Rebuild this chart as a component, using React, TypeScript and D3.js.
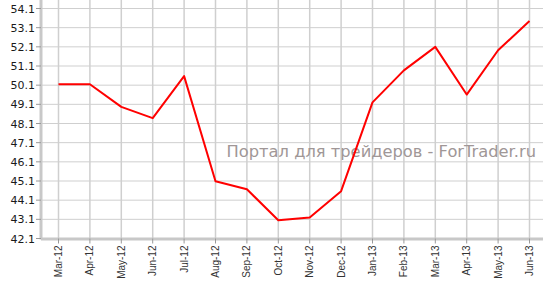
import React from "react";
import * as d3 from "d3";

const months = ["Mar-12","Apr-12","May-12","Jun-12","Jul-12","Aug-12","Sep-12","Oct-12","Nov-12","Dec-12","Jan-13","Feb-13","Mar-13","Apr-13","May-13","Jun-13"];
const values = [50.15,50.15,48.97,48.38,50.57,45.09,44.67,43.05,43.2,44.57,49.2,50.87,52.1,49.61,51.92,53.45];
const yTicks = [42.1,43.1,44.1,45.1,46.1,47.1,48.1,49.1,50.1,51.1,52.1,53.1,54.1];
const watermark = "Портал для трейдеров - ForTrader.ru";

export default function App() {
  const W = 543, H = 281;
  const axisX = 41, bottom = 238.5;
  const x = d3.scalePoint<string>().domain(months).range([58.5, 529.5]);
  const y = d3.scaleLinear().domain([42.1, 54.1]).range([bottom, 8.5]);
  const line = d3.line<number>().x((_, i) => x(months[i])!).y(d => y(d));
  return (
    <svg width={W} height={H} style={{ position: "absolute", left: 0, top: 0, background: "#fff" }}>
      {yTicks.map(t => (
        <line key={"h" + t} x1={axisX} x2={W} y1={y(t)} y2={y(t)} stroke="#cfcfcf" strokeWidth={1} />
      ))}
      {months.map(m => (
        <line key={"v" + m} x1={x(m)} x2={x(m)} y1={0} y2={bottom} stroke="#cfcfcf" strokeWidth={1.5} />
      ))}
      <text x={536} y={157} textAnchor="end" fontFamily="DejaVu Sans" fontSize={16.3} fill="#a09797">{watermark}</text>
      <line x1={axisX} x2={axisX} y1={0} y2={bottom + 1} stroke="#c8c8c8" strokeWidth={3} />
      <line x1={axisX} x2={W} y1={bottom + 0.5} y2={bottom + 0.5} stroke="#c8c8c8" strokeWidth={3} />
      {yTicks.map(t => (
        <g key={"yt" + t}>
          <line x1={36} x2={axisX} y1={y(t)} y2={y(t)} stroke="#999" strokeWidth={1} />
          <text x={35} y={y(t) + 4} textAnchor="end" fontFamily="DejaVu Sans" fontSize={11} fill="#1a1a1a">{t.toFixed(1)}</text>
        </g>
      ))}
      {months.map(m => (
        <g key={"xt" + m}>
          <line x1={x(m)} x2={x(m)} y1={bottom} y2={bottom + 5} stroke="#999" strokeWidth={1} />
          <text transform={`translate(${x(m)! + 3.5},${bottom + 7}) rotate(-90)`} textAnchor="end" fontFamily="Liberation Sans" fontSize={10} fill="#333">{m}</text>
        </g>
      ))}
      <path d={line(values)!} fill="none" stroke="#ff0000" strokeWidth={2} strokeLinejoin="round" />
    </svg>
  );
}
